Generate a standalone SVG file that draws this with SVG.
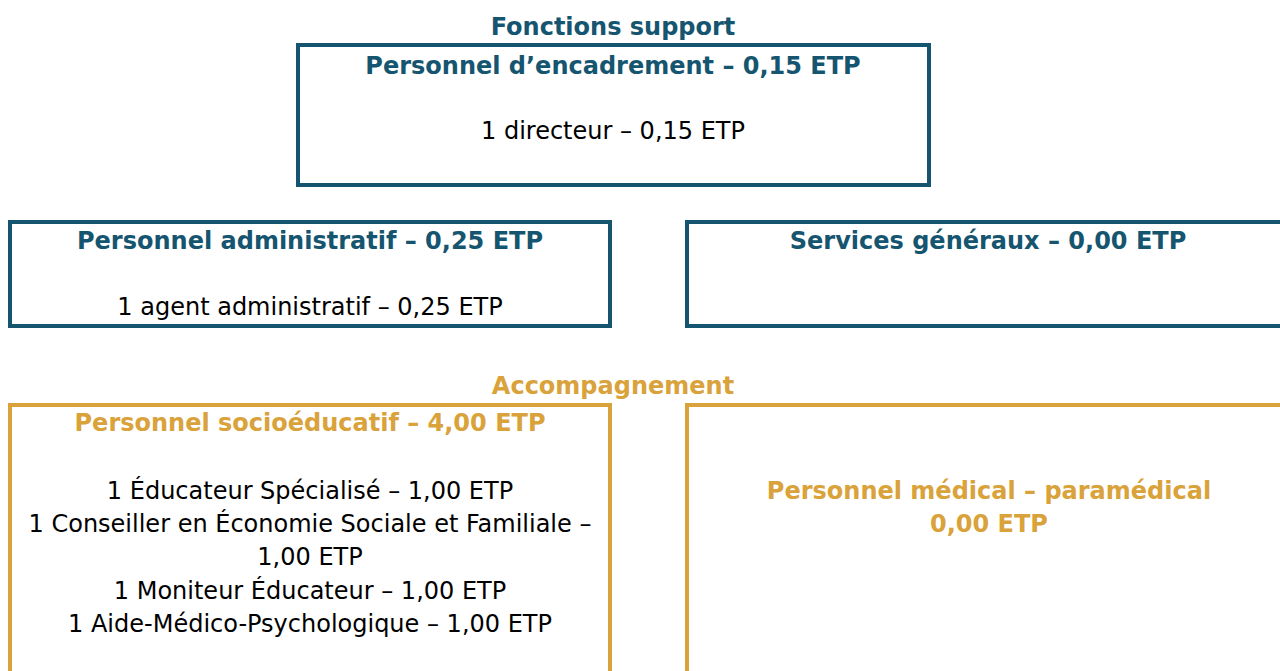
<svg xmlns="http://www.w3.org/2000/svg" width="1280" height="671" viewBox="0 0 1280 671">
<style>
.t{fill:#155570}.g{fill:#d9a23a}
.bt{fill:none;stroke:#155570;stroke-width:4}
.bg{fill:none;stroke:#d9a23a;stroke-width:4}
text{font-family:"DejaVu Sans","Verdana",sans-serif;font-size:24px;text-anchor:middle}
.b{font-weight:bold}
.n{fill:#000}
</style>
<rect width="1280" height="671" fill="#fff"/>
<text class="t b" x="613" y="35">Fonctions support</text>
<g id="encadrement">
<rect class="bt" x="298" y="45" width="631" height="140"/>
<text class="t b" x="613" y="74">Personnel d’encadrement – 0,15 ETP</text>
<text class="n" x="613" y="139">1 directeur – 0,15 ETP</text>
</g>
<g id="administratif">
<rect class="bt" x="10" y="222" width="600" height="104"/>
<text class="t b" x="310" y="249">Personnel administratif – 0,25 ETP</text>
<text class="n" x="310" y="315">1 agent administratif – 0,25 ETP</text>
</g>
<g id="services">
<rect class="bt" x="687" y="222" width="603" height="104"/>
<text class="t b" x="988" y="249">Services généraux – 0,00 ETP</text>
</g>
<text class="g b" x="613" y="394">Accompagnement</text>
<g id="socioeducatif">
<rect class="bg" x="10" y="405" width="600" height="280"/>
<text class="g b" x="310" y="431">Personnel socioéducatif – 4,00 ETP</text>
<text class="n" x="310" y="499">1 Éducateur Spécialisé – 1,00 ETP</text>
<text class="n" x="310" y="532">1 Conseiller en Économie Sociale et Familiale –</text>
<text class="n" x="310" y="565">1,00 ETP</text>
<text class="n" x="310" y="599">1 Moniteur Éducateur – 1,00 ETP</text>
<text class="n" x="310" y="632">1 Aide-Médico-Psychologique – 1,00 ETP</text>
</g>
<g id="medical">
<rect class="bg" x="687" y="405" width="603" height="280"/>
<text class="g b" x="989" y="499">Personnel médical – paramédical</text>
<text class="g b" x="989" y="532">0,00 ETP</text>
</g>
<g id="connectors"></g>
</svg>
